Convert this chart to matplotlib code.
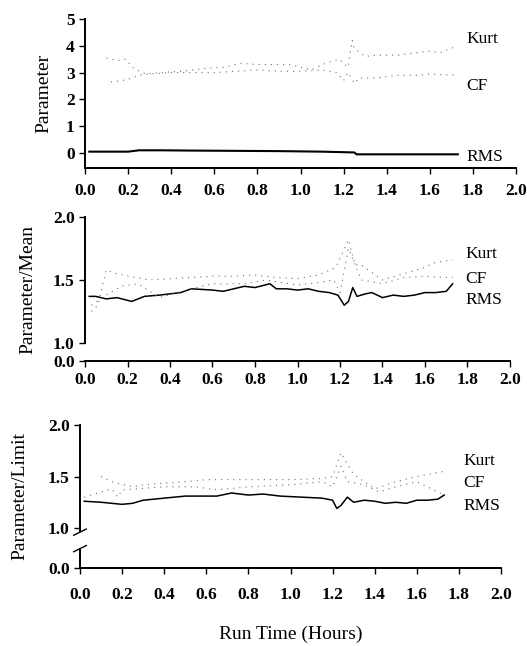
import matplotlib
matplotlib.use("Agg")
import matplotlib.pyplot as plt
import matplotlib.transforms as mtransforms

plt.rcParams['font.family'] = ['Liberation Serif', 'DejaVu Serif']

# ---------------- data ----------------
x_ticks = [0.0, 0.2, 0.4, 0.6, 0.8, 1.0, 1.2, 1.4, 1.6, 1.8, 2.0]
x_tick_labels = ["0.0", "0.2", "0.4", "0.6", "0.8", "1.0", "1.2", "1.4", "1.6", "1.8", "2.0"]

# Panel 1: Parameter
p1_rms_t = [0.02, 0.1, 0.2, 0.25, 0.35, 0.5, 0.7, 0.9, 1.1, 1.2, 1.25, 1.26, 1.4, 1.6, 1.73]
p1_rms_v = [0.05, 0.05, 0.05, 0.1, 0.1, 0.09, 0.08, 0.07, 0.05, 0.03, 0.02, -0.05, -0.05, -0.05, -0.05]
p1_kurt_t = [0.1, 0.15, 0.19, 0.22, 0.28, 0.35, 0.45, 0.55, 0.65, 0.72, 0.8, 0.9, 0.95, 1.05, 1.1, 1.18, 1.22, 1.24, 1.25, 1.3, 1.35, 1.45, 1.55, 1.6, 1.65, 1.73]
p1_kurt_v = [3.55, 3.45, 3.5, 3.2, 2.95, 3.0, 3.05, 3.15, 3.2, 3.35, 3.3, 3.3, 3.3, 3.1, 3.3, 3.5, 3.2, 4.2, 3.9, 3.6, 3.65, 3.65, 3.75, 3.8, 3.75, 4.0]
p1_cf_t = [0.12, 0.17, 0.2, 0.25, 0.3, 0.4, 0.5, 0.6, 0.7, 0.8, 0.9, 1.0, 1.1, 1.17, 1.2, 1.22, 1.25, 1.27, 1.35, 1.45, 1.55, 1.6, 1.7, 1.73]
p1_cf_v = [2.65, 2.7, 2.75, 2.9, 2.95, 3.0, 3.0, 3.0, 3.05, 3.1, 3.05, 3.05, 3.1, 3.0, 2.7, 3.0, 2.6, 2.8, 2.8, 2.9, 2.9, 2.95, 2.9, 2.95]

# Panel 2: Parameter/Mean
p2_rms_t = [0.02, 0.05, 0.1, 0.15, 0.22, 0.28, 0.35, 0.45, 0.5, 0.6, 0.65, 0.7, 0.75, 0.8, 0.87, 0.9, 0.95, 1.0, 1.05, 1.1, 1.15, 1.19, 1.22, 1.24, 1.26, 1.28, 1.32, 1.35, 1.4, 1.45, 1.5, 1.55, 1.6, 1.65, 1.7, 1.73]
p2_rms_v = [1.37, 1.37, 1.35, 1.36, 1.33, 1.37, 1.38, 1.40, 1.43, 1.42, 1.41, 1.43, 1.45, 1.44, 1.47, 1.43, 1.43, 1.42, 1.43, 1.41, 1.40, 1.38, 1.30, 1.33, 1.44, 1.37, 1.39, 1.40, 1.36, 1.38, 1.37, 1.38, 1.40, 1.40, 1.41, 1.47]
p2_kurt_t = [0.03, 0.06, 0.1, 0.15, 0.3, 0.4, 0.5, 0.6, 0.7, 0.8, 0.9, 1.0, 1.1, 1.18, 1.24, 1.27, 1.3, 1.4, 1.5, 1.6, 1.65, 1.73]
p2_kurt_v = [1.25, 1.3, 1.58, 1.55, 1.5, 1.51, 1.52, 1.53, 1.53, 1.54, 1.52, 1.51, 1.54, 1.6, 1.82, 1.62, 1.62, 1.5, 1.55, 1.6, 1.64, 1.66]
p2_cf_t = [0.03, 0.1, 0.17, 0.25, 0.35, 0.5, 0.6, 0.75, 0.85, 1.0, 1.1, 1.17, 1.2, 1.24, 1.3, 1.4, 1.5, 1.6, 1.7, 1.73]
p2_cf_v = [1.3, 1.38, 1.45, 1.47, 1.36, 1.43, 1.47, 1.47, 1.5, 1.46, 1.48, 1.5, 1.4, 1.75, 1.5, 1.47, 1.52, 1.53, 1.52, 1.52]

# Panel 3: Parameter/Limit
p3_rms_t = [0.02, 0.1, 0.2, 0.25, 0.3, 0.4, 0.5, 0.6, 0.65, 0.72, 0.8, 0.87, 0.95, 1.05, 1.15, 1.2, 1.22, 1.24, 1.27, 1.3, 1.35, 1.4, 1.45, 1.5, 1.55, 1.6, 1.65, 1.7, 1.73]
p3_rms_v = [1.26, 1.25, 1.23, 1.24, 1.27, 1.29, 1.31, 1.31, 1.31, 1.34, 1.32, 1.33, 1.31, 1.30, 1.29, 1.27, 1.19, 1.22, 1.30, 1.25, 1.27, 1.26, 1.24, 1.25, 1.24, 1.27, 1.27, 1.28, 1.32]
p3_kurt_t = [0.1, 0.15, 0.25, 0.3, 0.5, 0.6, 0.8, 1.0, 1.15, 1.2, 1.24, 1.3, 1.35, 1.4, 1.5, 1.6, 1.73]
p3_kurt_v = [1.5, 1.45, 1.4, 1.42, 1.45, 1.47, 1.47, 1.47, 1.48, 1.5, 1.73, 1.52, 1.45, 1.38, 1.45, 1.5, 1.55]
p3_cf_t = [0.02, 0.15, 0.18, 0.2, 0.4, 0.55, 0.65, 0.8, 1.0, 1.15, 1.2, 1.24, 1.27, 1.35, 1.42, 1.5, 1.6, 1.72]
p3_cf_v = [1.3, 1.38, 1.3, 1.37, 1.4, 1.4, 1.37, 1.4, 1.42, 1.45, 1.4, 1.6, 1.45, 1.42, 1.35, 1.40, 1.45, 1.33]

series_names = ["Kurt", "CF", "RMS"]
p1_name_y = [4.25, 2.5, -0.15]
p2_name_y = [1.71, 1.51, 1.34]
p3_name_y = [1.65, 1.44, 1.21]

p1_yticks = [0, 1, 2, 3, 4, 5]
p1_ylabels = ["0", "1", "2", "3", "4", "5"]
p23_ylabels = ["0.0", "1.0", "1.5", "2.0"]

# ---------------- figure ----------------
W, H = 527, 646
fig = plt.figure(figsize=(W / 100, H / 100), dpi=100)

def frac(l, r, t, b):
    return [l / W, 1 - b / H, (r - l) / W, (b - t) / H]

ax1 = fig.add_axes(frac(85, 516, 19, 168))
ax2 = fig.add_axes(frac(85, 510, 217, 361))
ax3 = fig.add_axes(frac(80, 501, 425, 568))

dot_kw = dict(color="#707070", lw=0.8, linestyle=(0, (1, 4.5)))
solid_kw = dict(color="black", lw=1.1)
tick_font = dict(family="Liberation Serif", weight="bold", size=12.5)
name_font = dict(size=12.5)
label_font = dict(size=14)

for ax in (ax1, ax2, ax3):
    ax.spines["top"].set_visible(False)
    ax.spines["right"].set_visible(False)
    ax.spines["left"].set_linewidth(1.4)
    ax.spines["bottom"].set_linewidth(1.4)
    ax.set_xlim(0, 2.0)
    ax.set_xticks(x_ticks)
    ax.set_xticklabels(x_tick_labels, **tick_font)
    ax.tick_params(axis="both", direction="out", length=4, width=1)

# panel 1
ax1.plot(p1_rms_t, p1_rms_v, color="black", lw=1.5)
ax1.plot(p1_kurt_t, p1_kurt_v, **dot_kw)
ax1.plot(p1_cf_t, p1_cf_v, **dot_kw)
ax1.set_ylim(-0.56, 5)
ax1.set_yticks(p1_yticks)
ax1.set_yticklabels(p1_ylabels, **tick_font)
ax1.tick_params(axis="x", pad=7)
ax1.set_ylabel("Parameter", **label_font, labelpad=10)
for n, yv in zip(series_names, p1_name_y):
    ax1.text(1.77, yv, n, va="center", ha="left", **name_font)

# panel 2
low2 = 0.857
ax2.plot(p2_rms_t, p2_rms_v, **solid_kw)
ax2.plot(p2_kurt_t, p2_kurt_v, **dot_kw)
ax2.plot(p2_cf_t, p2_cf_v, **dot_kw)
ax2.set_ylim(low2, 2.0)
ax2.set_yticks([low2, 1.0, 1.5, 2.0])
ax2.set_yticklabels(p23_ylabels, **tick_font)
ax2.spines["left"].set_bounds(1.0, 2.0)
ax2.tick_params(axis="x", pad=4)
ax2.set_ylabel("Parameter/Mean", **label_font, labelpad=12)
for n, yv in zip(series_names, p2_name_y):
    ax2.text(1.79, yv, n, va="center", ha="left", **name_font)

# panel 3
low3 = 0.612
ax3.plot(p3_rms_t, p3_rms_v, **solid_kw)
ax3.plot(p3_kurt_t, p3_kurt_v, **dot_kw)
ax3.plot(p3_cf_t, p3_cf_v, **dot_kw)
ax3.set_ylim(low3, 2.0)
ax3.set_yticks([low3, 1.0, 1.5, 2.0])
ax3.set_yticklabels(p23_ylabels, **tick_font)
ax3.spines["left"].set_bounds(0.97, 2.0)
ax3.tick_params(axis="x", pad=10)
ax3.set_ylabel("Parameter/Limit", **label_font, labelpad=14)
ax3.set_xlabel("Run Time (Hours)", **label_font, labelpad=16)
tr = mtransforms.blended_transform_factory(ax3.transAxes, ax3.transData)
ax3.plot([0, 0], [low3, 0.80], transform=tr, color="black", lw=1.4, clip_on=False)
ax3.plot([-0.015, 0.015], [0.93, 0.99], transform=tr, color="black", lw=1.0, clip_on=False)
ax3.plot([-0.015, 0.015], [0.77, 0.83], transform=tr, color="black", lw=1.0, clip_on=False)
for n, yv in zip(series_names, p3_name_y):
    ax3.text(1.82, yv, n, va="center", ha="left", **name_font)

fig.savefig("out.png", dpi=100)
